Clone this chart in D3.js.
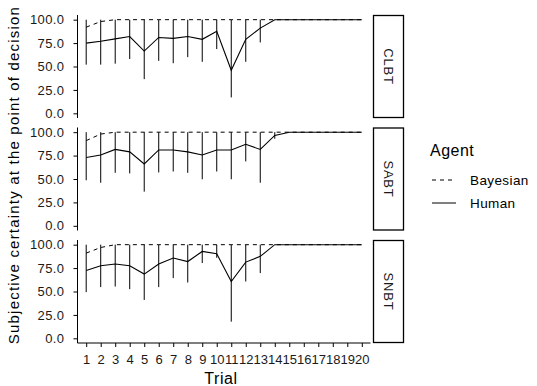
<!DOCTYPE html>
<html><head><meta charset="utf-8">
<script src="https://cdn.jsdelivr.net/npm/d3@7"></script>
<style>body{margin:0;background:#fff}svg{display:block}text{font-family:"Liberation Sans",Arial,sans-serif}</style>
</head><body>
<script>
const trials = d3.range(1, 21);
const conditions = ["CLBT", "SABT", "SNBT"];
const yTicks = [0, 25, 50, 75, 100];
const agents = ["Bayesian", "Human"];

const bayesCLBT = [92,98,100,100,100,100,100,100,100,100,100,100,100,100,100,100,100,100,100,100];
const bayesSABT = [91,98,100,100,100,100,100,100,100,100,100,100,100,100,100,100,100,100,100,100];
const bayesSNBT = [91,97,100,100,100,100,100,100,100,100,100,100,100,100,100,100,100,100,100,100];

const humanCLBT = [75,77,79.5,82,66.5,81,80,82,79,87.5,46,79,91,100,100,100,100,100,100,100];
const lowCLBT   = [52,52,53,58,36.5,56,53.5,60,55,68.6,17,55,75.7,100,100,100,100,100,100,100];
const highCLBT  = [100,100,100,100,100,100,100,100,100,100,100,100,100,100,100,100,100,100,100,100];

const humanSABT = [73,75.7,81.6,79,66,81,81,79,75.7,81,81,87,81.6,96.5,100,100,100,100,100,100];
const lowSABT   = [48.6,46,56.6,56,36.5,57,58,56.6,49.7,58,49.7,68.8,46,93,100,100,100,100,100,100];
const highSABT  = [100,100,100,100,100,100,100,100,100,100,100,100,100,100,100,100,100,100,100,100];

const humanSNBT = [72.4,77.5,79.3,77.5,68.6,79.3,85.7,82,92.8,90.3,60.7,81.4,87.5,100,100,100,100,100,100,100];
const lowSNBT   = [49.3,54.7,55.3,52.5,41,54.7,64.3,59.6,80.4,86,17.8,60.7,69.7,100,100,100,100,100,100,100];
const highSNBT  = [100,100,100,100,100,100,100,100,100,100,100,100,100,100,100,100,100,100,100,100];

const panelData = [
  {name: "CLBT", bayes: bayesCLBT, human: humanCLBT, low: lowCLBT, high: highCLBT},
  {name: "SABT", bayes: bayesSABT, human: humanSABT, low: lowSABT, high: highSABT},
  {name: "SNBT", bayes: bayesSNBT, human: humanSNBT, low: lowSNBT, high: highSNBT}
];

const W = 537, H = 386;
const left = 77.5, right = 370.5;
const panelTop0 = 15, panelH = 103, panelGap = 9.5;
const svg = d3.select("body").append("svg").attr("width", W).attr("height", H);

const x = d3.scaleLinear().domain([0.4, 20.6]).range([left, right]);
const fmt = d3.format(".1f");
const tickFont = "13px";

panelData.forEach((p, i) => {
  const top = panelTop0 + i * (panelH + panelGap);
  const y = d3.scaleLinear().domain([-5, 105]).range([top + panelH, top]);
  const g = svg.append("g");

  // y axis
  const ya = g.append("g").attr("transform", `translate(${left},0)`)
    .call(d3.axisLeft(y).tickValues(yTicks).tickFormat(fmt).tickSize(4).tickPadding(9));
  ya.select(".domain").attr("d", `M0,${top}V${top + panelH}`).attr("stroke", "#000");
  ya.selectAll(".tick line").attr("stroke", "#000");
  ya.selectAll(".tick text").attr("fill", "#1a1a1a").style("font-size", tickFont)
    .style("letter-spacing", "0.4px")
    .style("font-family", '"Liberation Sans",Arial,sans-serif');

  // error bars
  g.selectAll(".err").data(trials).enter().append("line")
    .attr("x1", d => x(d)).attr("x2", d => x(d))
    .attr("y1", (d, k) => y(p.low[k])).attr("y2", (d, k) => y(p.high[k]))
    .attr("stroke", "#000").attr("stroke-width", 1);

  const line = d3.line().x((d, k) => x(trials[k])).y(d => y(d));
  g.append("path").datum(p.bayes).attr("d", line).attr("fill", "none")
    .attr("stroke", "#000").attr("stroke-width", 1).attr("stroke-dasharray", "4,4");
  g.append("path").datum(p.human).attr("d", line).attr("fill", "none")
    .attr("stroke", "#000").attr("stroke-width", 1.1);

  // strip
  const sx = 373, sw = 30;
  g.append("rect").attr("x", sx + 0.5).attr("y", top + 0.5).attr("width", sw).attr("height", panelH - 1)
    .attr("fill", "#fff").attr("stroke", "#000").attr("stroke-width", 1.3);
  g.append("text").attr("transform", `translate(${sx + sw / 2 + 0.5},${top + panelH / 2}) rotate(90)`)
    .attr("text-anchor", "middle").attr("dy", "0.35em").style("font-size", "13px")
    .style("letter-spacing", "0.8px").attr("fill", "#1a1a1a")
    .text(p.name);

  if (i === conditions.length - 1) {
    const xa = g.append("g").attr("transform", `translate(0,${top + panelH})`)
      .call(d3.axisBottom(x).tickValues(trials).tickFormat(d3.format("d")).tickSize(4).tickPadding(8));
    xa.select(".domain").attr("d", `M${left},0H${right}`).attr("stroke", "#000");
    xa.selectAll(".tick line").attr("stroke", "#000");
    xa.selectAll(".tick text").attr("fill", "#1a1a1a").style("font-size", tickFont)
      .style("font-family", '"Liberation Sans",Arial,sans-serif');
  }
});

// axis titles
svg.append("text").attr("x", 221).attr("y", 384).attr("text-anchor", "middle")
  .style("font-size", "16px").style("letter-spacing", "0.6px").text("Trial");
svg.append("text").attr("transform", `translate(19,${(panelTop0 + 343) / 2 - 4}) rotate(-90)`)
  .attr("text-anchor", "middle").style("font-size", "15px").style("letter-spacing", "1.2px")
  .text("Subjective certainty at the point of decision");

// legend
const lg = svg.append("g");
lg.append("text").attr("x", 430).attr("y", 156).style("font-size", "16px").style("letter-spacing", "0.5px").text("Agent");
agents.forEach((a, k) => {
  const cy = 180 + k * 23;
  lg.append("line").attr("x1", 432).attr("x2", 456).attr("y1", cy).attr("y2", cy)
    .attr("stroke", "#000").attr("stroke-width", 1)
    .attr("stroke-dasharray", a === "Bayesian" ? "4,4" : null);
  lg.append("text").attr("x", 470).attr("y", cy).attr("dy", "0.35em").style("font-size", "13.5px")
    .style("letter-spacing", "0.4px").text(a);
});
</script>
</body></html>
